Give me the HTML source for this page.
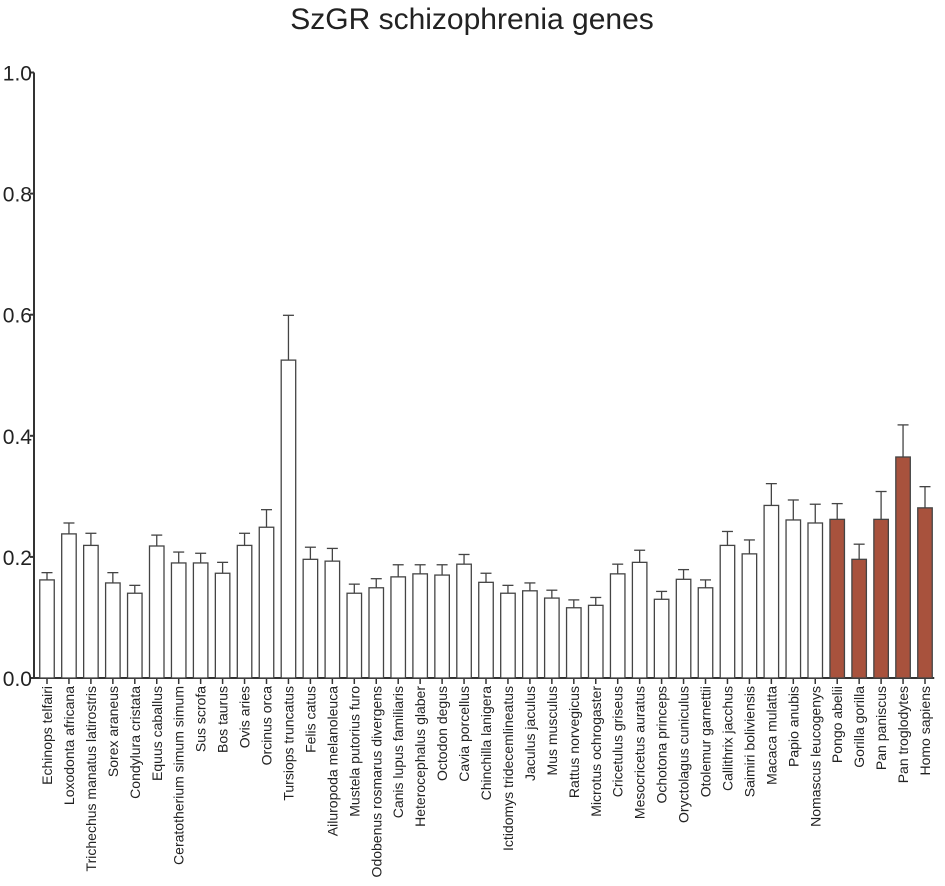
<!DOCTYPE html>
<html><head><meta charset="utf-8"><style>
body{margin:0;background:#fff;}
svg{display:block;font-family:"Liberation Sans",Arial,sans-serif;}
</style></head><body>
<svg id="chart" width="945" height="886"></svg>
<script>
const categories=["Echinops telfairi","Loxodonta africana","Trichechus manatus latirostris","Sorex araneus","Condylura cristata","Equus caballus","Ceratotherium simum simum","Sus scrofa","Bos taurus","Ovis aries","Orcinus orca","Tursiops truncatus","Felis catus","Ailuropoda melanoleuca","Mustela putorius furo","Odobenus rosmarus divergens","Canis lupus familiaris","Heterocephalus glaber","Octodon degus","Cavia porcellus","Chinchilla lanigera","Ictidomys tridecemlineatus","Jaculus jaculus","Mus musculus","Rattus norvegicus","Microtus ochrogaster","Cricetulus griseus","Mesocricetus auratus","Ochotona princeps","Oryctolagus cuniculus","Otolemur garnettii","Callithrix jacchus","Saimiri boliviensis","Macaca mulatta","Papio anubis","Nomascus leucogenys","Pongo abelii","Gorilla gorilla","Pan paniscus","Pan troglodytes","Homo sapiens"];
const values=[0.162,0.238,0.219,0.157,0.14,0.218,0.19,0.19,0.173,0.219,0.249,0.525,0.196,0.193,0.14,0.149,0.167,0.172,0.17,0.188,0.158,0.14,0.144,0.132,0.116,0.12,0.172,0.191,0.13,0.163,0.149,0.219,0.205,0.285,0.261,0.256,0.262,0.196,0.262,0.365,0.281];
const errors=[0.012,0.018,0.02,0.017,0.013,0.018,0.018,0.016,0.018,0.02,0.029,0.074,0.02,0.021,0.015,0.015,0.02,0.015,0.017,0.016,0.015,0.013,0.013,0.013,0.013,0.013,0.016,0.02,0.013,0.016,0.013,0.023,0.023,0.036,0.033,0.031,0.026,0.025,0.046,0.053,0.035];
const highlighted=[false,false,false,false,false,false,false,false,false,false,false,false,false,false,false,false,false,false,false,false,false,false,false,false,false,false,false,false,false,false,false,false,false,false,false,false,true,true,true,true,true];
const yTicks=[0,0.2,0.4,0.6,0.8,1.0];
const yTickLabels=["0.0","0.2","0.4","0.6","0.8","1.0"];

const NS="http://www.w3.org/2000/svg";
const svg=document.getElementById('chart');
const y0=678,yTop=72.5,xAxis=34,x0=47,step=21.95,bw=14.5;
const yScale=v=>y0-(y0-yTop)*v;
const xScale=i=>x0+i*step;
function mk(tag,attrs,parent){const e=document.createElementNS(NS,tag);for(const k in attrs)e.setAttribute(k,attrs[k]);(parent||svg).appendChild(e);return e;}

const title=mk('text',{x:472,y:29,'font-size':30,'text-anchor':'middle',fill:'#222'});
title.textContent="SzGR schizophrenia genes";



const yAxis=mk('g',{});


mk('line',{x1:xAxis,y1:yTop,x2:xAxis,y2:y0+1,stroke:'#333','stroke-width':2},yAxis);
yTicks.forEach((t,i)=>{
  const y=yScale(t);
  mk('line',{x1:xAxis-4,y1:y,x2:xAxis,y2:y,stroke:'#333','stroke-width':2},yAxis);
  const tx=mk('text',{x:xAxis-2,y:y+8,'font-size':21,'text-anchor':'end',fill:'#222'},yAxis);
  tx.textContent=yTickLabels[i];
  
  
});

const xAxisG=mk('g',{});


mk('line',{x1:xAxis-1,y1:y0,x2:xScale(categories.length-1)+bw/2+2,y2:y0,stroke:'#333','stroke-width':2},xAxisG);

categories.forEach((c,i)=>{
  const cx=xScale(i),v=values[i],e=errors[i];
  const g=mk('g',{});
  
  
  const yt=yScale(v),ye=yScale(v+e);
  mk('line',{x1:cx,y1:yt,x2:cx,y2:ye,stroke:'#444','stroke-width':1.3},g);
  mk('line',{x1:cx-5.5,y1:ye,x2:cx+5.5,y2:ye,stroke:'#444','stroke-width':1.3},g);
  mk('rect',{x:cx-bw/2,y:yt,width:bw,height:y0-yt,fill:highlighted[i]?'#a8523d':'#fff',stroke:'#444','stroke-width':1.3},g);
  mk('line',{x1:cx,y1:y0,x2:cx,y2:y0+6,stroke:'#333','stroke-width':1.5},xAxisG);
  const t=mk('text',{transform:`translate(${cx+5},${y0+8}) rotate(-90)`,'font-size':14,'text-anchor':'end',fill:'#222'},xAxisG);
  t.textContent=c;
  
  
});
</script>
</body></html>
